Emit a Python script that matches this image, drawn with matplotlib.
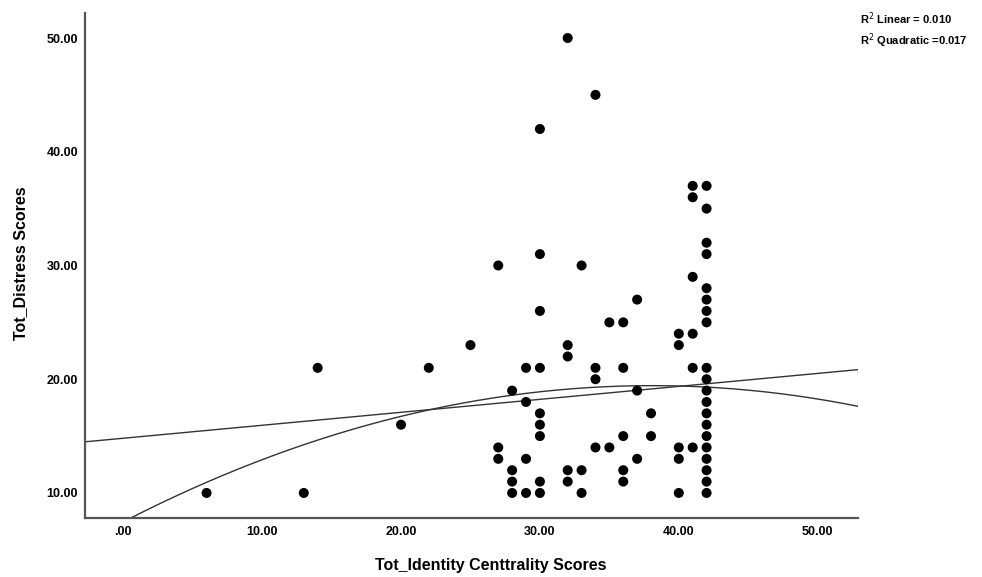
import numpy as np
import matplotlib
matplotlib.use('Agg')
from matplotlib import pyplot as plt

plt.rcParams['font.family'] = ['Liberation Sans', 'DejaVu Sans']

# Tot_Identity Centrality scores (x) and Tot_Distress scores (y)
identity = [6, 13, 14, 20, 22, 25,
            27, 27, 27,
            28, 28, 28, 28,
            29, 29, 29, 29,
            30, 30, 30, 30, 30, 30, 30, 30, 30,
            32, 32, 32, 32, 32,
            33, 33, 33,
            34, 34, 34, 34,
            35, 35,
            36, 36, 36, 36, 36,
            37, 37, 37,
            38, 38,
            40, 40, 40, 40, 40,
            41, 41, 41, 41, 41, 41,
            42, 42, 42, 42, 42, 42, 42, 42, 42, 42,
            42, 42, 42, 42, 42, 42, 42, 42, 42, 42]
distress = [10, 10, 21, 16, 21, 23,
            30, 14, 13,
            19, 12, 11, 10,
            21, 18, 13, 10,
            42, 31, 26, 21, 17, 16, 15, 11, 10,
            50, 23, 22, 12, 11,
            30, 12, 10,
            45, 21, 20, 14,
            25, 14,
            25, 21, 15, 12, 11,
            27, 19, 13,
            17, 15,
            24, 23, 14, 13, 10,
            37, 36, 29, 24, 21, 14,
            37, 35, 32, 31, 28, 27, 26, 25, 21, 20,
            19, 18, 17, 16, 15, 14, 13, 12, 11, 10]

# fit lines (intercept, slope[, x^2]) as shown in the chart
linear_coef = [14.81, 0.114]
quad_coef = [7.46, 0.629, -0.00826]
r2_labels = ['R$^2$ Linear = 0.010', 'R$^2$ Quadratic =0.017']

x_ticks = [0, 10, 20, 30, 40, 50]
y_ticks = [10, 20, 30, 40, 50]


def tick_fmt(v):
    s = '%.2f' % v
    return s[1:] if s.startswith('0') else s


fig = plt.figure(figsize=(9.82, 5.77), dpi=100)
ax = fig.add_axes([0.0866, 0.1023, 0.7871, 0.8752])

ax.scatter(identity, distress, s=52, color='black', edgecolors='none', zorder=3)

xx = np.linspace(-3, 54, 300)
ax.plot(xx, linear_coef[0] + linear_coef[1] * xx, color='#333333', lw=1.0, zorder=2)
ax.plot(xx, quad_coef[0] + quad_coef[1] * xx + quad_coef[2] * xx ** 2,
        color='#333333', lw=1.0, zorder=2)

ax.set_xlim(-2.75, 52.9)
ax.set_ylim(7.8, 52.2)

ax.set_xticks(x_ticks)
ax.set_xticklabels([tick_fmt(v) for v in x_ticks])
ax.set_yticks(y_ticks)
ax.set_yticklabels([tick_fmt(v) for v in y_ticks])
ax.tick_params(axis='x', length=0, labelsize=9, pad=6, colors='black')
ax.tick_params(axis='y', length=0, labelsize=9, pad=5, colors='black')
for lbl in ax.get_xticklabels() + ax.get_yticklabels():
    lbl.set_fontweight('bold')

for side in ['top', 'right']:
    ax.spines[side].set_visible(False)
for side in ['left', 'bottom']:
    ax.spines[side].set_color('#555555')
    ax.spines[side].set_linewidth(1.6)

ax.set_xlabel('Tot_Identity Centtrality Scores', fontsize=11.5, fontweight='bold',
              va='center')
ax.xaxis.set_label_coords(0.525, -0.095)
ax.set_ylabel('Tot_Distress Scores', fontsize=11.5, fontweight='bold', va='center')
ax.yaxis.set_label_coords(-0.084, 0.504)

fig.text(0.876, 0.967, r2_labels[0], fontsize=8, fontweight='bold', va='center')
fig.text(0.876, 0.930, r2_labels[1], fontsize=8, fontweight='bold', va='center')

plt.savefig('out.png', dpi=100)
